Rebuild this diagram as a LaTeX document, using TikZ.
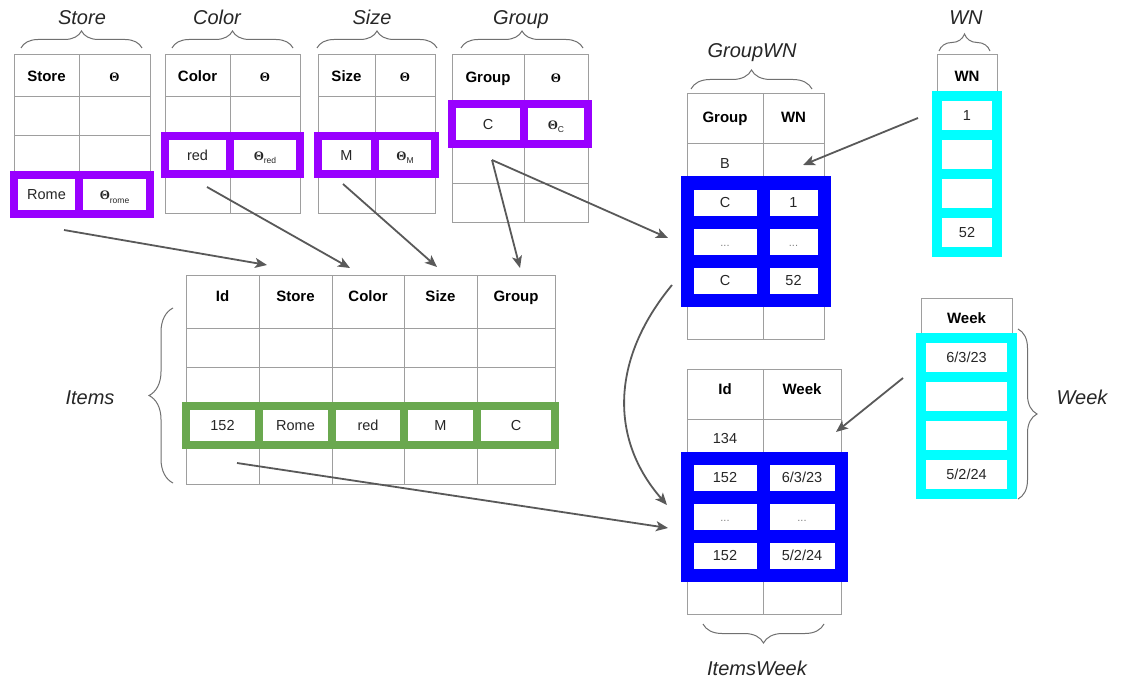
\documentclass[tikz,border=0pt]{standalone}
\usepackage{fontspec}
\setmainfont{Liberation Sans}
\newfontfamily\thfont{Liberation Serif}
\usetikzlibrary{arrows.meta,decorations.pathreplacing}
\definecolor{hpur}{HTML}{9900FF}
\definecolor{hgrn}{HTML}{6AA84F}
\definecolor{hblu}{HTML}{0000FF}
\definecolor{hcya}{HTML}{00FFFF}
\definecolor{gridc}{HTML}{9E9E9E}
\definecolor{arrc}{HTML}{595959}
\definecolor{bracec}{HTML}{707070}
\newcommand{\Th}{{\thfont\bfseries\fontsize{13}{13}\selectfont Θ}}
\newcommand{\Ths}[1]{{\thfont\bfseries\fontsize{13}{13}\selectfont Θ}\raisebox{-3.5pt}{\fontsize{8.5}{8.5}\selectfont #1}}
\newcommand{\myell}{\textcolor{gray}{\fontsize{11}{11}\selectfont ...}}
\newcommand{\tgrid}[2]{\foreach \xa/\xb in {#1}{\foreach \ya/\yb in {#2}{\draw[tbl] (\xa,\ya) rectangle (\xb,\yb);}}}
\tikzset{
  tbl/.style={draw=gridc, line width=1pt},
  hdr/.style={font=\fontsize{15}{15}\selectfont\bfseries, text=black, inner sep=0pt, text height=10.8pt, text depth=0pt},
  txt/.style={font=\fontsize{14.5}{14.5}\selectfont, text=black!85, text height=10.4pt, text depth=0pt},
  hl/.style={draw=#1, line width=8.5pt, fill=white, inner sep=0pt, txt},
  hlb/.style={draw=hblu, line width=13pt, fill=white, inner sep=0pt, txt},
  hlc/.style={draw=hcya, line width=10pt, fill=white, inner sep=0pt, txt},
  lbl/.style={font=\fontsize{20}{20}\selectfont\itshape, text=black!85, anchor=base, inner sep=0pt},
  brc/.style={draw=bracec, line width=1pt, decorate, decoration={brace, amplitude=#1}},
  arr/.style={draw=arrc, line width=1.8pt, -{Stealth[length=12pt,width=10pt,inset=3pt]}}
}
\begin{document}
\begin{tikzpicture}[x=1pt,y=-1pt]
\useasboundingbox (0,0) rectangle (1122,682);
\fill[white] (0,0) rectangle (1122,682);

% ---------- grids ----------
\tgrid{14/79,79/150}{55/97,97/136,136/175,175/214}
\tgrid{165/230,230/300}{55/97,97/136,136/174,174/213}
\tgrid{318/375,375/435}{55/97,97/136,136/174,174/213}
\tgrid{452/524,524/588}{55/104,104/144,144/183,183/222}
\tgrid{687/763,763/824}{94/144,144/183,183/222,222/261,261/300,300/339}
\tgrid{937/997}{55/96,96/135,135/174,174/213,213/252}
\tgrid{186/259,259/332,332/404,404/477,477/555}{275/328,328/367,367/406,406/445,445/484}
\tgrid{687/763,763/841}{369/419,419/458,458/497,497/536,536/575,575/614}
\tgrid{921/1012}{298/338,338/377,377/416,416/455,455/494}

% ---------- headers ----------
\node[hdr] (hStore) at (46.5,76) {Store};
\node[hdr] (hStoreT) at (114.5,76) {\Th};
\node[hdr] (hColor) at (197.5,76) {Color};
\node[hdr] (hColorT) at (265,76) {\Th};
\node[hdr] (hSize) at (346.5,76) {Size};
\node[hdr] (hSizeT) at (405,76) {\Th};
\node[hdr] (hGroup) at (488,77) {Group};
\node[hdr] (hGroupT) at (556,77) {\Th};
\node[hdr] (hGWg) at (725,117) {Group};
\node[hdr] (hGWw) at (793.5,117) {WN};
\node[hdr] (hWN) at (967,76) {WN};
\node[hdr] (hIid) at (222.5,296) {Id};
\node[hdr] (hIst) at (295.5,296) {Store};
\node[hdr] (hIco) at (368,296) {Color};
\node[hdr] (hIsi) at (440.5,296) {Size};
\node[hdr] (hIgr) at (516,296) {Group};
\node[hdr] (hIWid) at (725,389) {Id};
\node[hdr] (hIWwk) at (802,389) {Week};
\node[hdr] (hWeek) at (966.5,318) {Week};

\node[txt] (cB) at (725,163.5) {B};
\node[txt] (c134) at (725,438.5) {134};

% ---------- highlighted rows ----------
\node[hl=hpur, minimum width=65, minimum height=39] (rome) at (46.5,194.5) {Rome};
\node[hl=hpur, minimum width=71, minimum height=39] (throme) at (114.5,194.5) {\Ths{rome}};
\node[hl=hpur, minimum width=65, minimum height=38] (red) at (197.5,155) {red};
\node[hl=hpur, minimum width=70, minimum height=38] (thred) at (265,155) {\Ths{red}};
\node[hl=hpur, minimum width=57, minimum height=38] (sM) at (346.5,155) {M};
\node[hl=hpur, minimum width=60, minimum height=38] (thM) at (405,155) {\Ths{M}};
\node[hl=hpur, minimum width=72, minimum height=40] (gC) at (488,124) {C};
\node[hl=hpur, minimum width=64, minimum height=40] (thC) at (556,124) {\Ths{C}};
\node[hl=hgrn, minimum width=73, minimum height=39] (i152) at (222.5,425.5) {152};
\node[hl=hgrn, minimum width=73, minimum height=39] (iRome) at (295.5,425.5) {Rome};
\node[hl=hgrn, minimum width=72, minimum height=39] (ired) at (368,425.5) {red};
\node[hl=hgrn, minimum width=73, minimum height=39] (iM) at (440.5,425.5) {M};
\node[hl=hgrn, minimum width=78, minimum height=39] (iC) at (516,425.5) {C};
\node[hlb, minimum width=76, minimum height=39] (gw1a) at (725,202.5) {C};
\node[hlb, minimum width=61, minimum height=39] (gw1b) at (793.5,202.5) {1};
\node[hlb, minimum width=76, minimum height=39] (gw2a) at (725,241.5) {\myell};
\node[hlb, minimum width=61, minimum height=39] (gw2b) at (793.5,241.5) {\myell};
\node[hlb, minimum width=76, minimum height=39] (gw3a) at (725,280.5) {C};
\node[hlb, minimum width=61, minimum height=39] (gw3b) at (793.5,280.5) {52};
\node[hlb, minimum width=76, minimum height=39] (iw1a) at (725,477.5) {152};
\node[hlb, minimum width=78, minimum height=39] (iw1b) at (802,477.5) {6/3/23};
\node[hlb, minimum width=76, minimum height=39] (iw2a) at (725,516.5) {\myell};
\node[hlb, minimum width=78, minimum height=39] (iw2b) at (802,516.5) {\myell};
\node[hlb, minimum width=76, minimum height=39] (iw3a) at (725,555.5) {152};
\node[hlb, minimum width=78, minimum height=39] (iw3b) at (802,555.5) {5/2/24};
\node[hlc, minimum width=60, minimum height=39] (wn1) at (967,115.5) {1};
\node[hlc, minimum width=60, minimum height=39] (wn2) at (967,154.5) {};
\node[hlc, minimum width=60, minimum height=39] (wn3) at (967,193.5) {};
\node[hlc, minimum width=60, minimum height=39] (wn4) at (967,232.5) {52};
\node[hlc, minimum width=91, minimum height=39] (wk1) at (966.5,357.5) {6/3/23};
\node[hlc, minimum width=91, minimum height=39] (wk2) at (966.5,396.5) {};
\node[hlc, minimum width=91, minimum height=39] (wk3) at (966.5,435.5) {};
\node[hlc, minimum width=91, minimum height=39] (wk4) at (966.5,474.5) {5/2/24};

% ---------- braces and labels ----------
\draw[brc=17pt] (21,48) -- (142,48);
\node[lbl] (lStore) at (82,25) {Store};
\draw[brc=17pt] (172,48) -- (293,48);
\node[lbl] (lColor) at (217,25) {Color};
\draw[brc=17pt] (317,48) -- (437,48);
\node[lbl] (lSize) at (372,25) {Size};
\draw[brc=17pt] (461,48) -- (583,48);
\node[lbl] (lGroup) at (521,25) {Group};
\draw[brc=19pt] (691,89) -- (812,89);
\node[lbl] (lGroupWN) at (752,58) {GroupWN};
\draw[brc=17pt] (939,51) -- (990,51);
\node[lbl] (lWN) at (966,25) {WN};
\draw[brc=24pt] (173,483) -- (173,308);
\node[lbl] (lItems) at (90,404) {Items};
\draw[brc=19pt] (1018,329) -- (1018,499);
\node[lbl] (lWeek) at (1082,404) {Week};
\draw[brc=19pt] (824,624) -- (703,624);
\node[lbl] (lItemsWeek) at (757,675) {ItemsWeek};

% ---------- arrows ----------
\coordinate (s1) at (64,230);  \coordinate (e1) at (267,265);
\coordinate (s2) at (207,187); \coordinate (e2) at (350,268);
\coordinate (s3) at (343,184); \coordinate (e3) at (437,267);
\coordinate (s4) at (492,160); \coordinate (e4a) at (520,268); \coordinate (e4b) at (668,238);
\coordinate (s5) at (918,118); \coordinate (e5) at (803,165);
\coordinate (s6) at (672,285); \coordinate (e6) at (667,505);
\coordinate (s7) at (237,463); \coordinate (e7) at (668,528);
\coordinate (s8) at (903,378); \coordinate (e8) at (836,432);
\draw[arr] (s1) -- (e1);
\draw[arr] (s2) -- (e2);
\draw[arr] (s3) -- (e3);
\draw[arr] (s4) -- (e4a);
\draw[arr] (s4) -- (e4b);
\draw[arr] (s5) -- (e5);
\draw[arr] (s6) .. controls (610,360) and (610,440) .. (e6);
\draw[arr] (s7) -- (e7);
\draw[arr] (s8) -- (e8);
\end{tikzpicture}
\end{document}
